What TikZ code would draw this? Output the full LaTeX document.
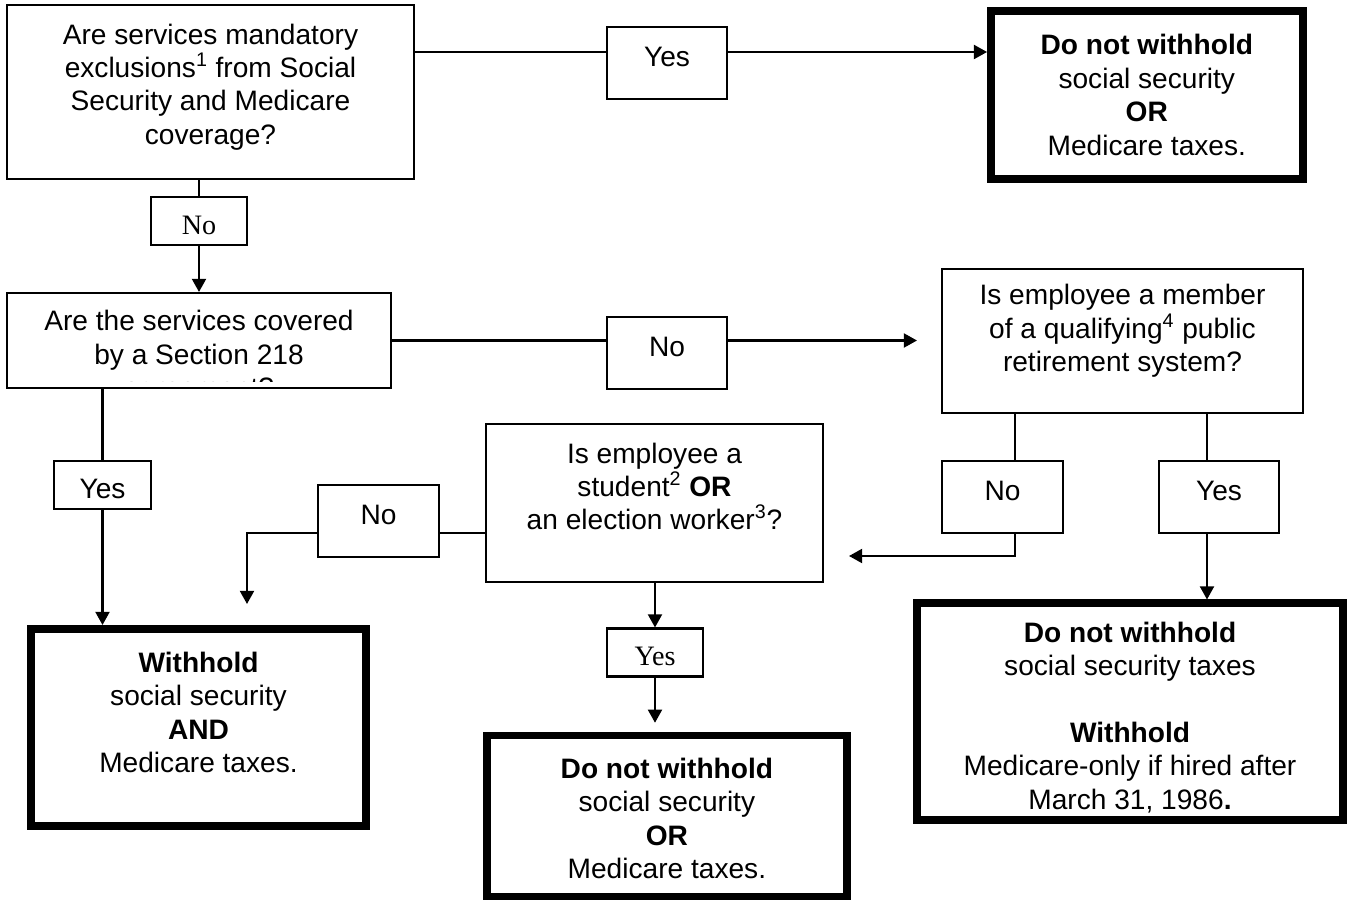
\documentclass[tikz,border=0pt]{standalone}
\usepackage{fontspec}
\setmainfont{Liberation Sans}
\newfontfamily\timesfont{Liberation Serif}
\usetikzlibrary{arrows.meta, calc}

\begin{document}
\begin{tikzpicture}[
    x=0.02cm, y=-0.02cm,
    >={Triangle[length=7.5pt,width=8pt]},
    font=\fontsize{16}{19}\selectfont,
    question/.style={draw, line width=1.2pt, inner sep=0pt},
    result/.style={draw, line width=4.3pt, inner sep=0pt},
    tall tag/.style={
        draw,
        line width=1.2pt,
        minimum width=2.4cm,
        minimum height=1.44cm,
        text height=11.5pt, text depth=8pt,  % text sits above the middle
        inner sep=2pt
    },
    short tag/.style={draw, line width=1.2pt, minimum width=1.92cm, minimum height=0.96cm,
        text height=15pt, text depth=0pt, inner sep=2pt},
    serif tag/.style={short tag, font=\timesfont\fontsize{16}{19}\selectfont},
    box text/.style={align=center},
    connection/.style={->, line width=1.2pt},
    plain line/.style={line width=1.2pt}
]

\useasboundingbox (0,0) rectangle (1353,905);

% Question boxes
\node[question, minimum width=8.14cm, minimum height=3.48cm,
      label={[name=qAtext, box text, yshift=0.1cm]center:{Are services mandatory\\exclusions\textsuperscript{1} from Social\\Security and Medicare\\coverage?}}]
      (qA) at (210.5,92) {};
\node[question, minimum width=7.68cm, minimum height=1.9cm,
      path picture={
          \clip ([yshift=0.12cm]path picture bounding box.south west) rectangle (path picture bounding box.north east);
          \node[box text, yshift=-0.33cm] (qBtext) at (path picture bounding box.center)
          {Are the services covered\\by a Section 218\\agreement?};}]
      (qB) at (199,340.5) {};
\node[question, minimum width=7.22cm, minimum height=2.88cm,
      label={[name=qCtext, box text, yshift=0.2cm]center:{Is employee a member\\of a qualifying\textsuperscript{4} public\\retirement system?}}]
      (qC) at (1122.5,341) {};
\node[question, minimum width=6.74cm, minimum height=3.16cm,
      label={[name=qDtext, box text, yshift=0.33cm]center:{Is employee a\\student\textsuperscript{2} \textbf{OR}\\an election worker\textsuperscript{3}?}}]
      (qD) at (654.5,503) {};

% Result boxes (heavy frame)
\node[result, minimum width=6.24cm, minimum height=3.36cm,
      label={[name=rAtext, box text]center:{\textbf{Do not withhold}\\social security\\\textbf{OR}\\Medicare taxes.}}]
      (rA) at (1146.8,95) {};
\node[result, minimum width=6.71cm, minimum height=3.95cm,
      label={[name=rBtext, box text, yshift=0.3cm]center:{\textbf{Withhold}\\social security\\\textbf{AND}\\Medicare taxes.}}]
      (rB) at (198.5,727.5) {};
\node[result, minimum width=7.2cm, minimum height=3.22cm,
      label={[name=rCtext, box text, yshift=-0.05cm]center:{\textbf{Do not withhold}\\social security\\\textbf{OR}\\Medicare taxes.}}]
      (rC) at (666.9,816) {};
\node[result, minimum width=8.53cm, minimum height=4.33cm,
      label={[name=rDtext, box text, yshift=-0.12cm]center:{\textbf{Do not withhold}\\social security taxes\\[19pt]\textbf{Withhold}\\Medicare-only if hired after\\March 31, 1986\textbf{.}}}]
      (rD) at (1130,711.5) {};

% Yes / No tags
\node[tall tag] (yesA) at (667,63) {Yes};
\node[serif tag] (noA) at (199,221) {No};
\node[tall tag] (noB) at (667,353) {No};
\node[short tag, minimum width=1.94cm] (yesB) at (102.5,485) {Yes};
\node[tall tag, minimum width=2.42cm] (noC) at (1002.5,497) {No};
\node[tall tag] (yesC) at (1219,497) {Yes};
\node[tall tag, minimum width=2.42cm] (noD) at (378.5,521) {No};
\node[serif tag] (yesD) at (655,652.5) {Yes};

% First question
\draw[plain line] (qA.east |- 0,52) -- (yesA.west |- 0,52);
\draw[connection] (yesA.east |- 0,52) -- (rA.west |- 0,52);
\draw[plain line] (qA.south -| noA.north) -- (noA.north);
\draw[connection] (noA.south) -- (qB.north -| noA.south);

% Second question
\draw[plain line] (qB.east) -- (qB.east -| noB.west);
\draw[connection, shorten >=0.48cm] (qB.east -| noB.east) -- (qB.east -| qC.west);
\draw[plain line] (qB.south -| yesB.north) -- (yesB.north);
\draw[connection] (yesB.south) -- (rB.north -| yesB.south);

% Retirement system question
\coordinate (cNo) at ($(noC.north)+(12.5,0)$);
\coordinate (cYes) at ($(yesC.north)+(-12,0)$);
\draw[plain line] (qC.south -| cNo) -- (cNo);
\draw[connection, shorten >=0.5cm] (cNo |- noC.south) |- ($(qD.east)+(0,53)$);
\draw[plain line] (qC.south -| cYes) -- (cYes);
\draw[connection] (cYes |- yesC.south) -- (cYes |- rD.north);

% Student / election worker question
\coordinate (dOut) at ($(qD.west)+(0,30)$);
\draw[plain line] (dOut) -- (dOut -| noD.east);
\draw[connection, shorten >=0.42cm] (dOut -| noD.west) -| ($(rB.north)+(48.5,0)$);
\draw[connection] (qD.south -| yesD.north) -- (yesD.north);
\draw[connection, shorten >=0.18cm] (yesD.south) -- (rC.north -| yesD.south);

\end{tikzpicture}
\end{document}
